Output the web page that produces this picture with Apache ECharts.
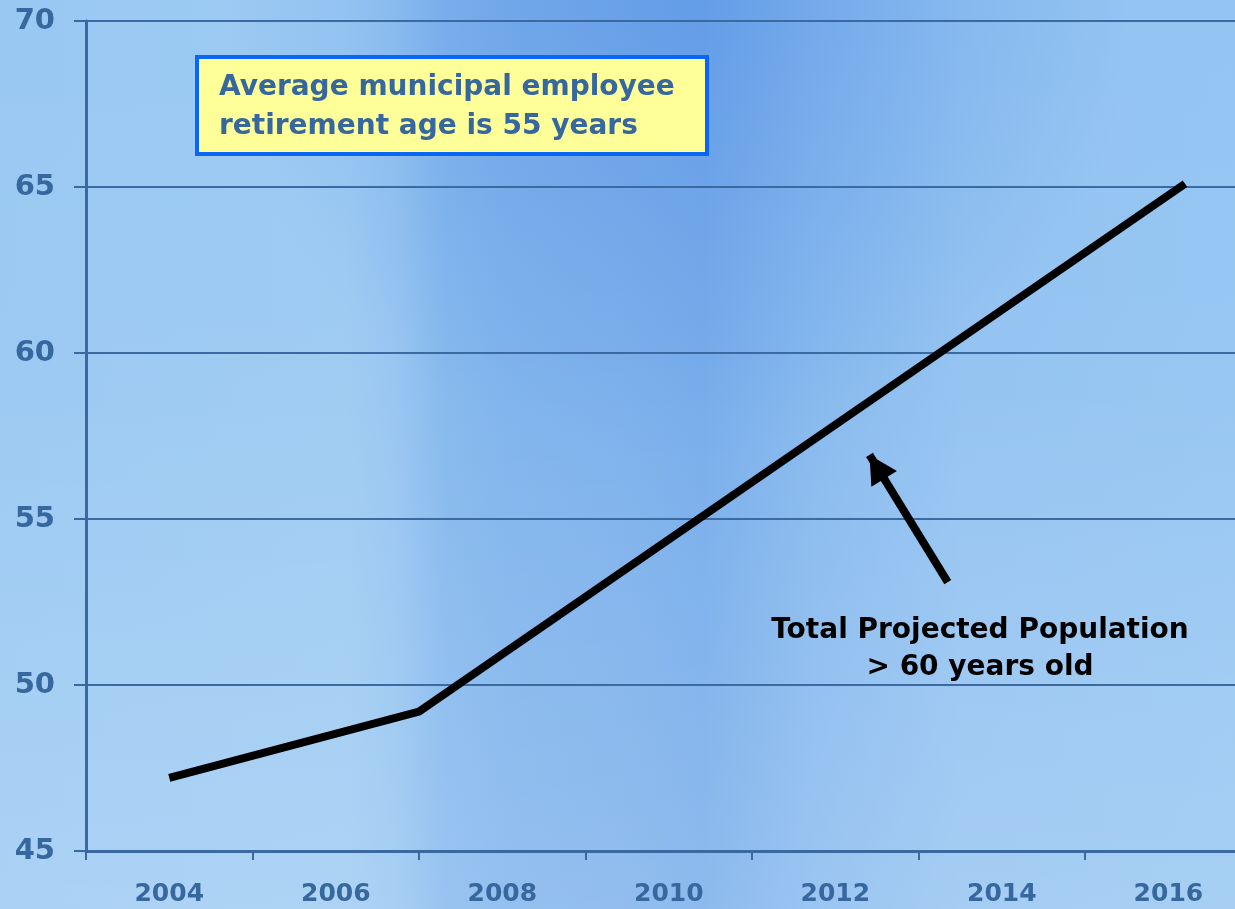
<!DOCTYPE html>
<html>
<head>
<meta charset="utf-8">
<script src="https://cdn.jsdelivr.net/npm/echarts@6/dist/echarts.min.js"></script>
<style>
  html, body { margin: 0; padding: 0; overflow: hidden; }
  #chart { width: 1235px; height: 909px; }
</style>
</head>
<body>
<div id="chart"></div>
<script>
// Projected share of population over 60 (%), by year
const years = [2004, 2007, 2016.2];
const population60 = [47.2, 49.2, 65.1];

// Axis tick labels
const yearLabels = [2004, 2006, 2008, 2010, 2012, 2014, 2016];
const yearTicks = [2003, 2005, 2007, 2009, 2011, 2013, 2015];

// Callout arrow (start and end in data units)
const arrowFrom = [2013.35, 53.1];
const arrowTo = [2012.41, 56.93];

const noteText = 'Average municipal employee\nretirement age is 55 years';
const seriesNote = 'Total Projected Population\n> 60 years old';

const FONT = 'DejaVu Sans';
const AXIS_BLUE = '#36679e';

const chart = echarts.init(document.getElementById('chart'));

chart.setOption({
  backgroundColor: new echarts.graphic.LinearGradient(0, 0, 1, 0, [
    { offset: 0.00, color: '#99c8f2' },
    { offset: 0.28, color: '#9ccaf2' },
    { offset: 0.32, color: '#95c4f1' },
    { offset: 0.36, color: '#83b7ed' },
    { offset: 0.41, color: '#7db2ec' },
    { offset: 0.50, color: '#7aafeb' },
    { offset: 0.57, color: '#74abea' },
    { offset: 0.66, color: '#85b8ee' },
    { offset: 0.78, color: '#92c2f1' },
    { offset: 1.00, color: '#94c5f2' }
  ]),
  animation: false,
  graphic: [
    {
      type: 'rect', z: -10, silent: true,
      shape: { x: 0, y: 0, width: 1235, height: 909 },
      style: {
        fill: new echarts.graphic.RadialGradient(0.55, 0.0, 0.5, [
          { offset: 0, color: 'rgba(80,140,228,0.45)' },
          { offset: 1, color: 'rgba(80,140,228,0)' }
        ])
      }
    },
    {
      type: 'rect', z: -9, silent: true,
      shape: { x: 0, y: 0, width: 1235, height: 909 },
      style: {
        fill: new echarts.graphic.LinearGradient(0, 0, 0, 1, [
          { offset: 0, color: 'rgba(255,255,255,0)' },
          { offset: 0.4, color: 'rgba(255,255,255,0.03)' },
          { offset: 1, color: 'rgba(255,255,255,0.18)' }
        ])
      }
    },
    {
      type: 'text', z: 10, silent: true,
      x: 980, y: 649,
      style: {
        text: seriesNote,
        font: 'bold 28px "' + FONT + '"',
        fill: '#000000',
        align: 'center',
        verticalAlign: 'middle',
        lineHeight: 37
      }
    }
  ],
  title: {
    text: noteText,
    left: 197,
    top: 57,
    backgroundColor: '#ffff99',
    borderColor: '#0a66f7',
    borderWidth: 4,
    padding: [11, 32, 8, 22],
    itemGap: 0,
    textStyle: {
      fontFamily: FONT,
      fontWeight: 'bold',
      fontSize: 28,
      lineHeight: 39,
      color: AXIS_BLUE
    }
  },
  grid: { left: 86, right: 0, top: 21, bottom: 58, containLabel: false },
  xAxis: {
    type: 'value',
    min: 2003,
    max: 2016.8,
    splitLine: { show: false },
    axisLine: { show: true, lineStyle: { color: '#3a69a0', width: 3 } },
    axisTick: {
      show: true,
      length: 9,
      customValues: yearTicks,
      lineStyle: { color: '#3a69a0', width: 2 }
    },
    axisLabel: {
      customValues: yearLabels,
      margin: 31,
      fontFamily: FONT,
      fontWeight: 'bold',
      fontSize: 25,
      color: AXIS_BLUE,
      formatter: v => String(v)
    }
  },
  yAxis: {
    type: 'value',
    min: 45,
    max: 70,
    interval: 5,
    axisLine: { show: true, lineStyle: { color: '#3a69a0', width: 3 } },
    axisTick: { show: true, length: 12, lineStyle: { color: '#3a69a0', width: 2 } },
    splitLine: { show: true, lineStyle: { color: '#3b6aa3', width: 2 } },
    axisLabel: {
      margin: 31,
      fontFamily: FONT,
      fontWeight: 'bold',
      fontSize: 29,
      color: AXIS_BLUE
    }
  },
  series: [{
    type: 'line',
    data: years.map((y, i) => [y, population60[i]]),
    symbol: 'none',
    lineStyle: { color: '#000000', width: 8, cap: 'butt', join: 'miter' },
    z: 5,
    markLine: {
      silent: true,
      symbol: ['none', 'triangle'],
      symbolSize: [30, 28],
      symbolOffset: [0, [0, 14]],
      label: { show: false },
      lineStyle: { color: '#000000', width: 8, type: 'solid', cap: 'butt' },
      data: [[{ coord: arrowFrom }, { coord: arrowTo }]]
    }
  }]
});
</script>
</body>
</html>
